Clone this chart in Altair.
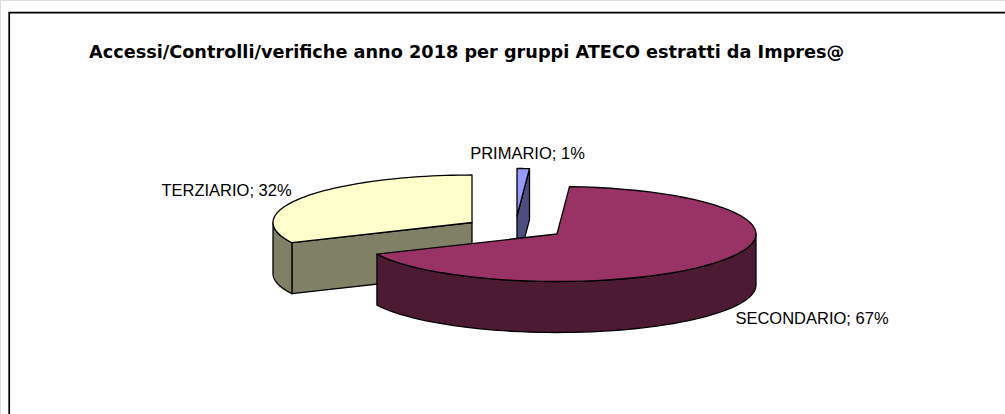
import math
import altair as alt
import pandas as pd

WIDTH, HEIGHT = 1005, 414

title_text = "Accessi/Controlli/verifiche anno 2018 per gruppi ATECO estratti da Impres@"
sectors = ["PRIMARIO", "SECONDARIO", "TERZIARIO"]
shares = [1, 67, 32]
top_colors = ["#9999ff", "#993366", "#ffffcc"]
side_colors = ["#4d4d80", "#4d1a33", "#808066"]
# Exploded slice apex of each sector on the drawing scale
apex_x = [517, 557, 472]
apex_y = [216, 234, 222.5]
label_x = [527.5, 812, 226.5]
label_y = [154, 319, 191]

RX, RY, DEPTH = 199, 47.5, 51


def rim(i, a0, a1, dz=0.0, steps=60):
    """Points along a slice's elliptical edge between two clockwise angles."""
    pts = []
    for k in range(steps + 1):
        a = math.radians(a0 + (a1 - a0) * k / steps)
        pts.append((apex_x[i] + RX * math.sin(a), apex_y[i] - RY * math.cos(a) + dz))
    return pts


X_SCALE = alt.Scale(domain=[0, WIDTH], range=[0, WIDTH])
Y_SCALE = alt.Scale(domain=[0, HEIGHT], range=[0, HEIGHT])


def face(points, colour, width=1.3):
    df = pd.DataFrame(points, columns=["x", "y"]).assign(seq=range(len(points)))
    return (
        alt.Chart(df)
        .mark_line(
            interpolate="linear-closed",
            fill=colour,
            stroke="#000000",
            strokeWidth=width,
            strokeJoin="round",
        )
        .encode(
            x=alt.X("x:Q", scale=X_SCALE, axis=None),
            y=alt.Y("y:Q", scale=Y_SCALE, axis=None),
            order="seq:Q",
        )
    )


# Cumulative clockwise slice angles, starting at twelve o'clock
edges = [0.0]
for s in shares:
    edges.append(edges[-1] + 360.0 * s / sum(shares))
start = edges[:-1]
end = edges[1:]

layers = []

# Frame around the chart area; its right and bottom sides fall off the page
frame = pd.DataFrame({"x": [9.2], "x2": [1012], "y": [12.7], "y2": [430]})
layers.append(
    alt.Chart(frame)
    .mark_rect(fill="#ffffff", stroke="#000000", strokeWidth=1.7, clip=False)
    .encode(
        x=alt.X("x:Q", scale=X_SCALE, axis=None),
        x2="x2:Q",
        y=alt.Y("y:Q", scale=Y_SCALE, axis=None),
        y2="y2:Q",
    )
)

# TERZIARIO: cut face, outer wall, then top
i = 2
apex = (apex_x[i], apex_y[i])
down = (apex_x[i], apex_y[i] + DEPTH)
p = rim(i, start[i], start[i])[0]
layers.append(face([apex, p, (p[0], p[1] + DEPTH), down], side_colors[i]))
layers.append(face(rim(i, start[i], 270) + rim(i, 270, start[i], DEPTH), side_colors[i]))
layers.append(face([apex] + rim(i, start[i], end[i]), top_colors[i]))

# PRIMARIO: end cut face and top
i = 0
apex = (apex_x[i], apex_y[i])
down = (apex_x[i], apex_y[i] + DEPTH)
p = rim(i, end[i], end[i])[0]
layers.append(face([apex, p, (p[0], p[1] + DEPTH), down], side_colors[i]))
layers.append(face([apex] + rim(i, start[i], end[i]), top_colors[i]))

# SECONDARIO: outer wall and top, in front of the others
i = 1
apex = (apex_x[i], apex_y[i])
layers.append(face(rim(i, 90, end[i]) + rim(i, end[i], 90, DEPTH), side_colors[i]))
layers.append(face([apex] + rim(i, start[i], end[i]), top_colors[i]))

# Slice labels and heading
labels = pd.DataFrame(
    {
        "text": [f"{n}; {v}%" for n, v in zip(sectors, shares)],
        "x": label_x,
        "y": label_y,
    }
)
layers.append(
    alt.Chart(labels)
    .mark_text(font="Liberation Sans", fontSize=16.5, color="#000000", align="center", baseline="middle")
    .encode(
        x=alt.X("x:Q", scale=X_SCALE, axis=None),
        y=alt.Y("y:Q", scale=Y_SCALE, axis=None),
        text="text:N",
    )
)
heading = pd.DataFrame({"text": [title_text], "x": [89], "y": [53]})
layers.append(
    alt.Chart(heading)
    .mark_text(font="DejaVu Sans", fontSize=17.7, fontWeight="bold", color="#000000", align="left", baseline="middle")
    .encode(
        x=alt.X("x:Q", scale=X_SCALE, axis=None),
        y=alt.Y("y:Q", scale=Y_SCALE, axis=None),
        text="text:N",
    )
)

chart = (
    alt.layer(*layers)
    .properties(width=WIDTH, height=HEIGHT, padding=0, autosize=alt.AutoSizeParams(type="none"))
    .configure_view(stroke=None)
    .configure(background="#ffffff")
)

chart.save("out.html", embed_options={"renderer": "svg", "actions": False})
